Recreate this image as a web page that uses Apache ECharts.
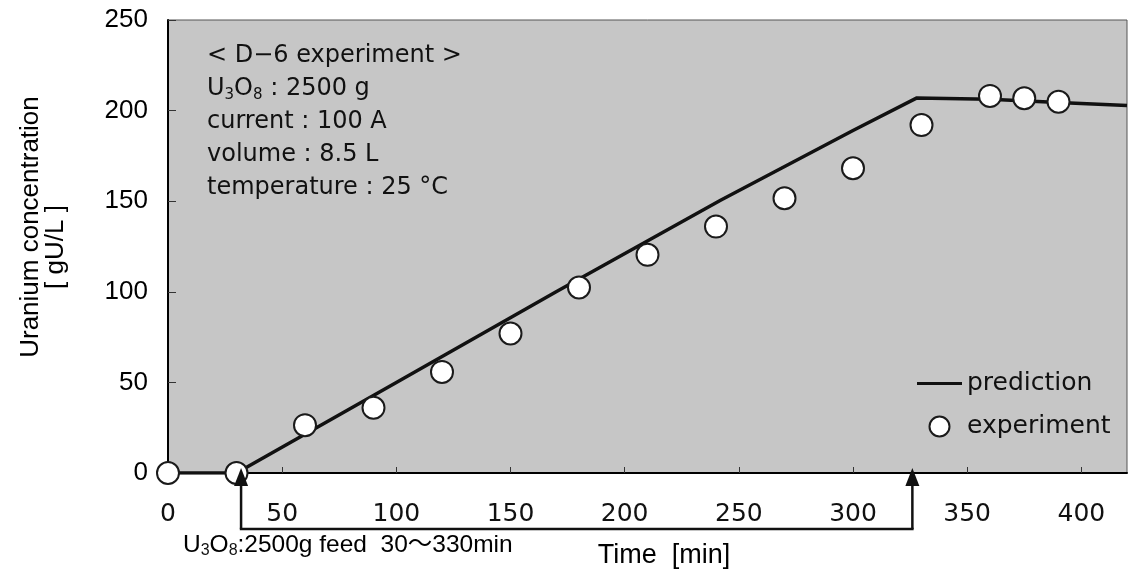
<!DOCTYPE html>
<html>
<head>
<meta charset="utf-8">
<script src="https://cdn.jsdelivr.net/npm/echarts@6/dist/echarts.min.js"></script>
<style>
html,body{margin:0;padding:0;background:#fff;}
#c{width:1129px;height:578px;}
</style>
</head>
<body>
<div id="c"></div>
<script>
// ---- data ----
const predTimes  = [0, 30, 100, 170, 242, 300, 328, 360, 390, 420];
const predValues = [0, 0, 50, 100, 150.5, 189, 207, 206.3, 204.5, 202.8];
const expTimes   = [0, 30, 60, 90, 120, 150, 180, 210, 240, 270, 300, 330, 360, 375, 390];
const expValues  = [0, 0, 26.4, 36, 55.8, 77, 102.4, 120.4, 136, 151.6, 168.2, 192, 208.1, 206.8, 204.9];
const xRange = [0, 420];
const yRange = [0, 250];
const xStep = 50;
const yStep = 50;
const feedArrowTimes = [32, 326];
const seriesNames = ['prediction', 'experiment'];
// {s|..} marks a subscript
const infoLines = ['< D\u22126 experiment >', 'U{s|3}O{s|8} : 2500 g', 'current : 100 A', 'volume : 8.5 L', 'temperature : 25 \u00B0C'];
const feedLabel = 'U{s|3}O{s|8}:2500g feed  30\u301C330min';
const xTitle = 'Time  [min]';
const yTitleLines = ['Uranium concentration', '[ gU/L ]'];

const chart = echarts.init(document.getElementById('c'), null, {renderer: 'canvas'});

const option = {
  animation: false,
  backgroundColor: '#ffffff',
  grid: {
    left: 168, right: 2, top: 20, bottom: 105,
    show: true, backgroundColor: '#c6c6c6', borderColor: '#555', borderWidth: 1
  },
  xAxis: {
    type: 'value', min: xRange[0], max: xRange[1], interval: xStep,
    axisLine: {show: true, onZero: false, lineStyle: {color: '#000', width: 2}},
    axisTick: {show: true, inside: true, length: 6, lineStyle: {color: '#333', width: 1}},
    axisLabel: {margin: 29, fontFamily: 'DejaVu Sans', fontSize: 25, color: '#111', showMaxLabel: false},
    splitLine: {show: false}
  },
  yAxis: {
    type: 'value', min: yRange[0], max: yRange[1], interval: yStep,
    axisLine: {show: true, onZero: false, lineStyle: {color: '#000', width: 2}},
    axisTick: {show: true, inside: true, length: 8, lineStyle: {color: '#333', width: 1}},
    axisLabel: {margin: 20, fontFamily: 'Liberation Sans', fontSize: 26, color: '#000'},
    splitLine: {show: false}
  },
  legend: {
    orient: 'vertical', left: 912, top: 366,
    itemWidth: 45, itemHeight: 20, itemGap: 18,
    textStyle: {fontFamily: 'DejaVu Sans', fontSize: 25, color: '#111'},
    data: [
      {name: seriesNames[0], icon: 'path://M0,0 L45,0 L45,3.2 L0,3.2 Z', itemStyle: {color: '#111', borderWidth: 0}},
      {name: seriesNames[1], icon: 'circle'}
    ]
  },
  series: [
    {
      name: seriesNames[0], type: 'line',
      data: predTimes.map((t, i) => [t, predValues[i]]),
      symbol: 'none', showSymbol: false, smooth: false,
      lineStyle: {color: '#111', width: 3.5},
      itemStyle: {color: '#111'},
      z: 2
    },
    {
      name: seriesNames[1], type: 'scatter',
      data: expTimes.map((t, i) => [t, expValues[i]]),
      symbol: 'circle', symbolSize: 22, clip: false,
      itemStyle: {color: '#ffffff', borderColor: '#1a1a1a', borderWidth: 2, opacity: 1},
      z: 3
    }
  ]
};
chart.setOption(option);

function richText(fam, size, subSize, lh) {
  return {
    fontFamily: fam, fontSize: size, fill: '#111', lineHeight: lh,
    rich: {
      s: {fontFamily: fam, fontSize: subSize, lineHeight: lh, verticalAlign: 'bottom', fill: '#111', padding: [0, 0, 0, 0]}
    }
  };
}

const xa = feedArrowTimes.map(t => chart.convertToPixel({xAxisIndex: 0}, t));
const tipY = 468, baseY = 486, botY = 529;
const graphics = [];
infoLines.forEach((s, i) => {
  const st = richText('DejaVu Sans', 24, 15, 28);
  st.text = s; st.align = 'left'; st.verticalAlign = 'middle';
  graphics.push({type: 'text', x: 207, y: 56 + 33 * i, z: 10, style: st});
});
graphics.push({
  type: 'text', x: 31, y: 227, rotation: Math.PI / 2, z: 10,
  style: {text: yTitleLines[0], fontFamily: 'Liberation Sans', fontSize: 26, fill: '#000', align: 'center', verticalAlign: 'middle'}
});
graphics.push({
  type: 'text', x: 56, y: 247, rotation: Math.PI / 2, z: 10,
  style: {text: yTitleLines[1], fontFamily: 'Liberation Sans', fontSize: 26, fill: '#000', align: 'center', verticalAlign: 'middle'}
});
graphics.push({
  type: 'text', x: 664, y: 556, z: 10,
  style: {text: xTitle, fontFamily: 'Liberation Sans', fontSize: 27, fill: '#000', align: 'center', verticalAlign: 'middle'}
});
(function () {
  const st = richText('Liberation Sans, Noto Sans CJK JP', 24.5, 16, 27);
  st.text = feedLabel; st.fill = '#000'; st.align = 'left'; st.verticalAlign = 'middle';
  graphics.push({type: 'text', x: 183, y: 545, z: 10, style: st});
})();
xa.forEach(x => {
  graphics.push({type: 'line', z: 10, shape: {x1: x, y1: botY, x2: x, y2: baseY - 1}, style: {stroke: '#111', lineWidth: 2.5}});
  graphics.push({type: 'polygon', z: 10, shape: {points: [[x, tipY], [x - 7, baseY], [x + 7, baseY]]}, style: {fill: '#111'}});
});
graphics.push({type: 'line', z: 10, shape: {x1: xa[0] - 1.25, y1: botY, x2: xa[1] + 1.25, y2: botY}, style: {stroke: '#111', lineWidth: 2.5}});

chart.setOption({graphic: graphics});
</script>
</body>
</html>
